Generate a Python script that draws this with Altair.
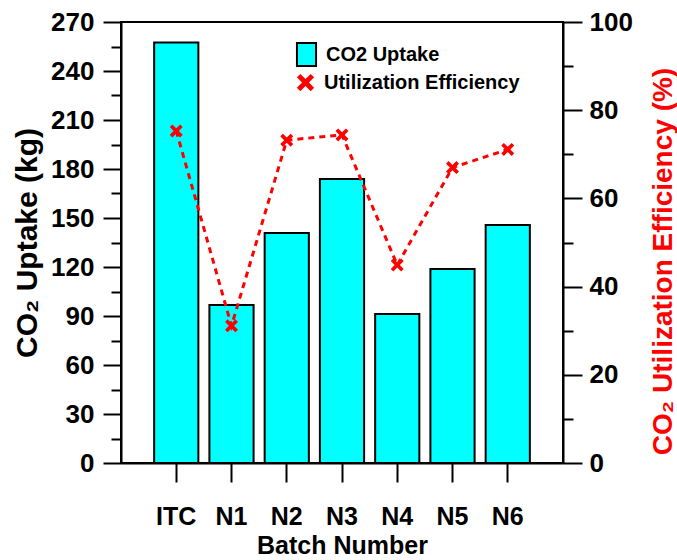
import altair as alt
import pandas as pd

# ---- data ----
batches = ["ITC", "N1", "N2", "N3", "N4", "N5", "N6"]
co2_uptake = [257.5, 96.8, 140.8, 173.9, 91.2, 118.8, 145.7]          # kg
utilization = [75.3, 31.1, 73.2, 74.4, 44.9, 67.0, 71.1]              # %
bar_series = ["CO2 Uptake"]
eff_series = ["Utilization Efficiency"]
left_ticks = list(range(0, 271, 15))
right_ticks = list(range(0, 101, 10))

bar_df = pd.DataFrame({"batch": batches, "value": co2_uptake, "bar_series": bar_series * len(batches)})
eff_df = pd.DataFrame({"batch": batches, "value": utilization, "eff_series": eff_series * len(batches)})

FONT = "Liberation Sans"
XPATH = ("M-0.75,-0.45L-0.45,-0.75L0,-0.3L0.45,-0.75L0.75,-0.45L0.3,0"
         "L0.75,0.45L0.45,0.75L0,0.3L-0.45,0.75L-0.75,0.45L-0.3,0Z")
RECT = "M-0.83,-1L0.83,-1L0.83,1L-0.83,1Z"

legend_common = dict(
    orient="none", padding=0, title=None, symbolSize=529,
    labelFont=FONT, labelFontSize=20, labelFontWeight="bold", labelLimit=400,
    labelColor="black", labelOffset=7, symbolOpacity=1,
)
bar_legend = alt.Legend(legendX=173, legendY=20, symbolType=RECT,
                        symbolStrokeColor="black", symbolStrokeWidth=2, **legend_common)
eff_legend = alt.Legend(legendX=173, legendY=49, symbolType=XPATH,
                        symbolFillColor="#FF0000", symbolStrokeWidth=0, **legend_common)

x_enc = alt.X(
    "batch:N", sort=batches,
    scale=alt.Scale(paddingInner=0.2, paddingOuter=0.6),
    axis=alt.Axis(title="Batch Number", labelAngle=0, labelFontSize=25,
                  titleFontSize=25, tickSize=19, labelPadding=22, titlePadding=4),
)

left_axis = alt.Axis(
    title="CO₂ Uptake (kg)", values=left_ticks,
    labelExpr="datum.value % 30 === 0 ? datum.label : ''",
    tickSize={"condition": {"test": "datum.value % 30 === 0", "value": 18}, "value": 10},
    labelFontSize=26, labelPadding=9, titleFontSize=30, titlePadding=8,
)

right_axis = alt.Axis(
    title="CO₂ Utilization Efficiency (%)", orient="right", values=right_ticks,
    labelExpr="datum.value % 20 === 0 ? datum.label : ''",
    tickSize={"condition": {"test": "datum.value % 20 === 0", "value": 19}, "value": 10},
    labelFontSize=26, labelPadding=7, titleFontSize=28,
    titleColor="#FF0000", titleAngle=270, titleX=100, titleY=239,
    titleAlign="center", titleBaseline="middle",
)

bars = alt.Chart(bar_df).mark_bar(stroke="black", strokeWidth=2, opacity=1).encode(
    x=x_enc,
    y=alt.Y("value:Q", scale=alt.Scale(domain=[0, 270], nice=False, zero=True), axis=left_axis),
    fill=alt.Fill("bar_series:N", scale=alt.Scale(domain=bar_series, range=["#00FFFF"]),
                  legend=bar_legend),
)

y_right = alt.Y("value:Q", scale=alt.Scale(domain=[0, 100], nice=False), axis=right_axis)

line = alt.Chart(eff_df).mark_line(color="#FF0000", strokeDash=[6, 5], strokeWidth=3).encode(
    x=x_enc, y=y_right,
)
points = alt.Chart(eff_df).mark_point(filled=True, size=300, opacity=1, color="#FF0000").encode(
    x=x_enc, y=y_right,
    shape=alt.Shape("eff_series:N", scale=alt.Scale(domain=eff_series, range=[XPATH]),
                    legend=eff_legend),
)

chart = alt.layer(bars, alt.layer(line, points)).resolve_scale(y="independent").properties(
    width=442, height=441,
    padding={"left": 12, "top": 9, "right": 0, "bottom": 5},
    background="white",
).configure_axis(
    domainColor="black", domainWidth=2, tickColor="black", tickWidth=2,
    labelColor="black", titleColor="black", labelFont=FONT, titleFont=FONT,
    labelFontWeight="bold", titleFontWeight="bold", grid=False,
).configure_view(stroke="black", strokeWidth=2)

chart.save("out.html", embed_options={"renderer": "svg", "actions": False})
